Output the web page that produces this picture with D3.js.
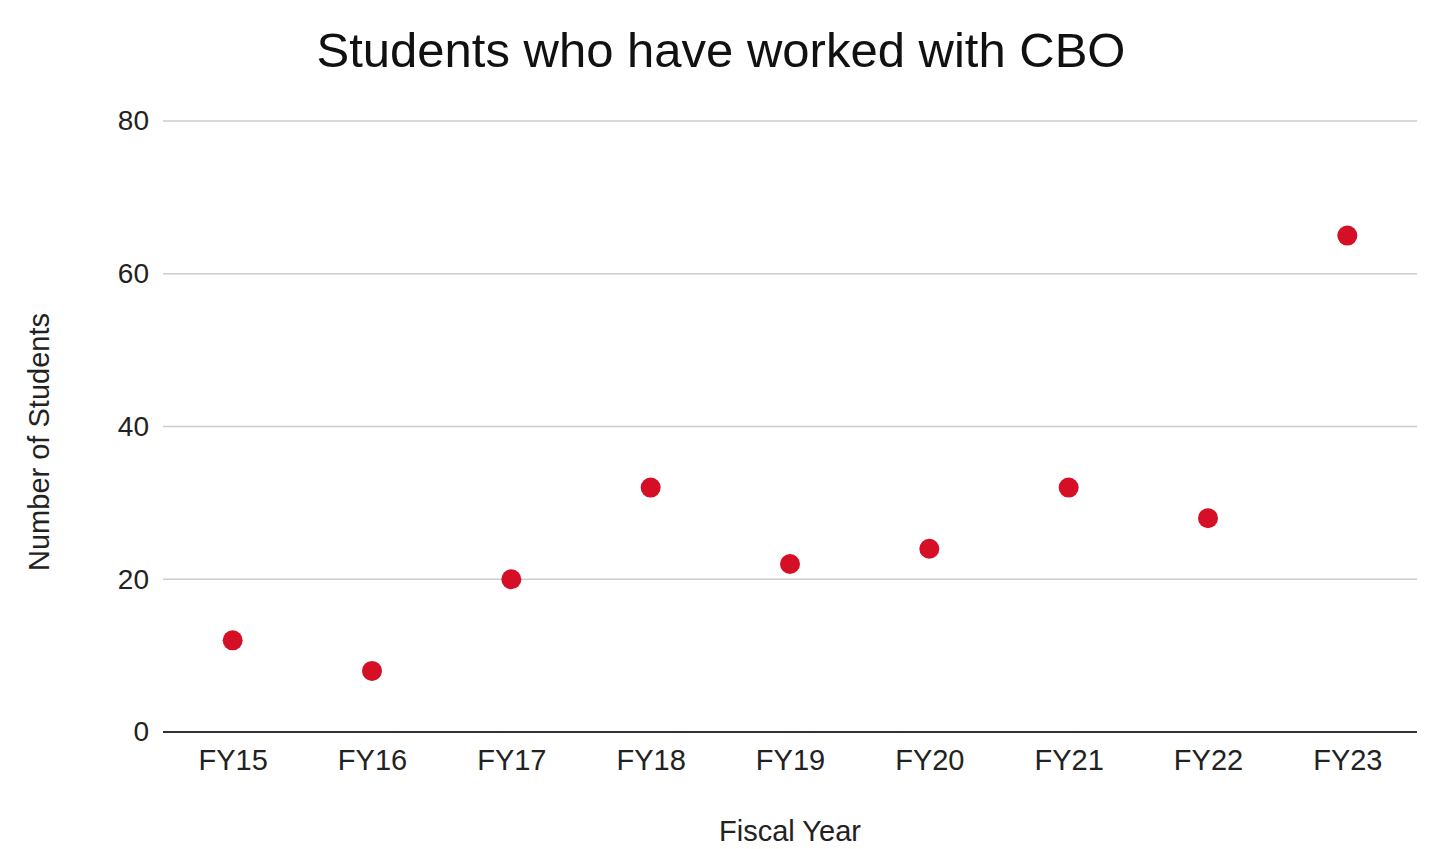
<!DOCTYPE html>
<html>
<head>
<meta charset="utf-8">
<script src="https://cdn.jsdelivr.net/npm/d3@7"></script>
<style>
  body { margin: 0; background: #fff; }
  text { font-family: "Liberation Sans", Arial, sans-serif; }
</style>
</head>
<body>
<script>
// chart data
var years = ["FY15", "FY16", "FY17", "FY18", "FY19", "FY20", "FY21", "FY22", "FY23"];
var students = [12, 8, 20, 32, 22, 24, 32, 28, 65];
var yTicks = [0, 20, 40, 60, 80];

var width = 1431, height = 849;
var margin = {top: 121, right: 14, bottom: 117, left: 163};

var svg = d3.select("body").append("svg")
    .attr("width", width)
    .attr("height", height);

var x = d3.scalePoint()
    .domain(years)
    .range([margin.left, width - margin.right])
    .padding(0.5);

var y = d3.scaleLinear()
    .domain([0, 80])
    .range([height - margin.bottom, margin.top]);

// gridlines
svg.append("g")
    .selectAll("line")
    .data(yTicks.filter(function(d){ return d > 0; }))
    .enter()
    .append("line")
    .attr("x1", margin.left)
    .attr("x2", width - margin.right)
    .attr("y1", function(d){ return y(d); })
    .attr("y2", function(d){ return y(d); })
    .attr("stroke", "#cccccc")
    .attr("stroke-width", 1.5);

// y axis labels
var yAxis = svg.append("g")
    .attr("transform", "translate(" + margin.left + ",0)")
    .call(d3.axisLeft(y).tickValues(yTicks).tickSize(0).tickPadding(14));
yAxis.select(".domain").remove();
yAxis.selectAll("text")
    .attr("font-size", 28)
    .attr("fill", "#222");

// x axis
var xAxis = svg.append("g")
    .attr("transform", "translate(0," + y(0) + ")")
    .call(d3.axisBottom(x).tickSize(0).tickPadding(17));
xAxis.select(".domain")
    .attr("d", "M" + margin.left + ",0H" + (width - margin.right))
    .attr("stroke", "#333")
    .attr("stroke-width", 2);
xAxis.selectAll("text")
    .attr("font-size", 29)
    .attr("fill", "#222");

// points
svg.append("g")
    .selectAll("circle")
    .data(years)
    .enter()
    .append("circle")
    .attr("cx", function(d){ return x(d); })
    .attr("cy", function(d, i){ return y(students[i]); })
    .attr("r", 10)
    .attr("fill", "#d50f25");

// title
svg.append("text")
    .attr("x", 721)
    .attr("y", 67)
    .attr("text-anchor", "middle")
    .attr("font-size", 49)
    .attr("fill", "#111")
    .text("Students who have worked with CBO");

// axis titles
svg.append("text")
    .attr("x", (margin.left + width - margin.right) / 2)
    .attr("y", 841)
    .attr("text-anchor", "middle")
    .attr("font-size", 29)
    .attr("fill", "#222")
    .text("Fiscal Year");

svg.append("text")
    .attr("transform", "translate(49," + 442 + ") rotate(-90)")
    .attr("text-anchor", "middle")
    .attr("font-size", 29)
    .attr("fill", "#222")
    .text("Number of Students");
</script>
</body>
</html>
